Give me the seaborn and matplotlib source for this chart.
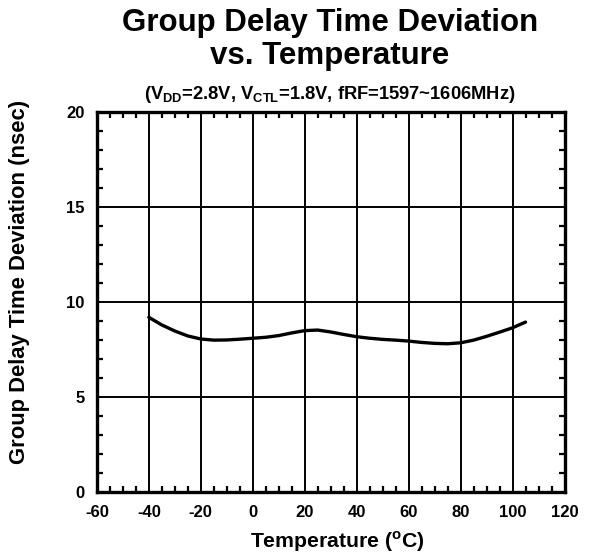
import matplotlib
matplotlib.use("Agg")
import matplotlib.pyplot as plt
import seaborn as sns
import pandas as pd
from matplotlib.ticker import MultipleLocator

temps = [-40, -35, -30, -25, -20, -15, -10, -5, 0, 5, 10, 15, 20, 25, 30, 35,
         40, 45, 50, 55, 60, 65, 70, 75, 80, 85, 90, 95, 100, 105]
deviation = [9.2, 8.8, 8.48, 8.22, 8.06, 8.0, 8.01, 8.05, 8.1, 8.15, 8.24, 8.38, 8.5, 8.53, 8.43, 8.3,
             8.18, 8.1, 8.04, 8.0, 7.95, 7.88, 7.83, 7.81, 7.86, 8.0, 8.2, 8.42, 8.65, 8.95]
x_ticks = [-60, -40, -20, 0, 20, 40, 60, 80, 100, 120]
y_ticks = [0, 5, 10, 15, 20]

sns.set_theme(style="white")
plt.rcParams['font.family'] = ['Liberation Sans', 'DejaVu Sans']
plt.rcParams['mathtext.fontset'] = 'custom'
plt.rcParams['mathtext.rm'] = 'Liberation Sans'
plt.rcParams['mathtext.bf'] = 'Liberation Sans:bold'
plt.rcParams['axes.unicode_minus'] = False
plt.rcParams['text.color'] = 'black'
plt.rcParams['xtick.color'] = 'black'
plt.rcParams['ytick.color'] = 'black'

df = pd.DataFrame({"Temperature": temps, "Deviation": deviation})

fig = plt.figure(figsize=(5.98, 5.6), dpi=100)
ax = fig.add_axes([0.162, 0.121, 0.782, 0.679])
sns.lineplot(data=df, x="Temperature", y="Deviation", ax=ax, color="black", linewidth=2.4)

ax.set_xlim(-60, 120)
ax.set_ylim(0, 20)
ax.set_xticks(x_ticks)
ax.set_yticks(y_ticks)
ax.xaxis.set_minor_locator(MultipleLocator(5))
ax.yaxis.set_minor_locator(MultipleLocator(1))
ax.grid(True, which="major", color="black", linewidth=1.4)
ax.tick_params(which="both", direction="in", top=True, right=True, bottom=True, left=True, color="black")
ax.tick_params(which="major", length=0, labelsize=12)
ax.tick_params(axis="x", which="major", pad=9)
ax.tick_params(axis="y", which="major", pad=9)
ax.tick_params(which="minor", length=4, width=1.6)
for lab in ax.get_xticklabels() + ax.get_yticklabels():
    lab.set_fontweight("bold")
for s in ax.spines.values():
    s.set_linewidth(2.4)
    s.set_color("black")

ax.set_xlabel("")
ax.set_ylabel("")
fig.text(0.565, 0.022, r"Temperature ($^{\mathbf{o}}$C)", ha="center", va="baseline",
         fontsize=15.3, fontweight="bold")
fig.text(0.032, 0.496, "Group Delay Time Deviation (nsec)", ha="center", va="center",
         rotation=90, fontsize=15.8, fontweight="bold")

fig.text(0.552, 0.944, "Group Delay Time Deviation", ha="center", va="baseline", fontsize=22.5, fontweight="bold")
fig.text(0.552, 0.886, "vs. Temperature", ha="center", va="baseline", fontsize=22.5, fontweight="bold")
fig.text(0.552, 0.824, r"(V$_{\mathbf{DD}}$=2.8V, V$_{\mathbf{CTL}}$=1.8V, fRF=1597~1606MHz)",
         ha="center", va="baseline", fontsize=13.2, fontweight="bold")

fig.savefig("out.png", dpi=100)
